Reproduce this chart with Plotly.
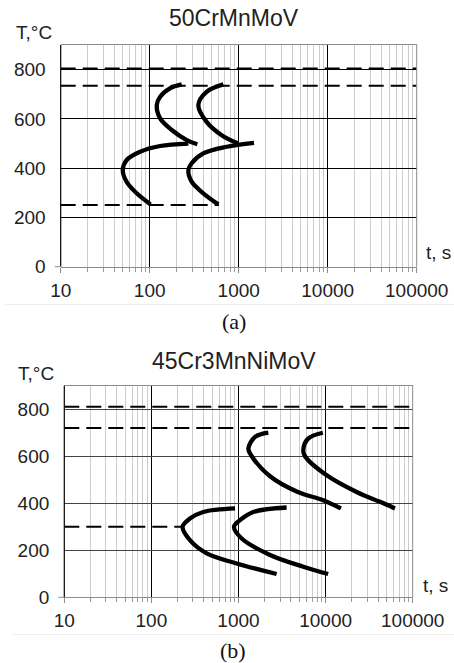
import plotly.graph_objects as go

W, H = 454, 663

# ---------------- data ----------------
x_tick_vals = [10, 100, 1000, 10000, 100000]
x_tick_text = ["10", "100", "1000", "10000", "100000"]
y_tick_vals = [0, 200, 400, 600, 800]
y_tick_text = ["0", "200", "400", "600", "800"]

titles = ["50CrMnMoV", "45Cr3MnNiMoV"]
captions = ["(a)", "(b)"]

# (a) 50CrMnMoV
a_start_upper_t = [229, 169, 131, 120, 131, 177, 261, 343]
a_start_upper_T = [740, 724, 690, 656, 602, 555, 514, 497]
a_start_lower_t = [272, 131, 78, 55, 49.8, 55, 71.5, 102]
a_start_lower_T = [500, 490, 467, 433, 392, 345, 298, 253]
a_finish_upper_t = [672, 436, 352, 436, 644, 990]
a_finish_upper_T = [740, 710, 656, 588, 534, 500]
a_finish_lower_t = [1486, 733, 400, 296, 272, 296, 400, 590]
a_finish_lower_T = [503, 487, 460, 420, 392, 345, 298, 253]
a_dash_T = [805, 735, 250]
a_dash_t_end = [100000, 100000, 600]

# (b) 45Cr3MnNiMoV
b_start_upper_t = [2200, 1550, 1300, 1420, 2300, 4800, 9400, 15000]
b_start_upper_T = [700, 682, 633, 600, 515, 448, 413, 378]
b_finish_upper_t = [9300, 6300, 5540, 5800, 10300, 22700, 42100, 62600]
b_finish_upper_T = [700, 675, 625, 600, 519, 448, 406, 378]
b_start_lower_t = [912, 394, 277, 228, 277, 431, 952, 2740]
b_start_lower_T = [378, 363, 335, 300, 243, 187, 144, 99]
b_finish_lower_t = [3570, 1480, 1040, 888, 1090, 2300, 5540, 10700]
b_finish_lower_T = [382, 363, 328, 300, 250, 180, 130, 99]
b_dash_T = [810, 720, 300]
b_dash_t_end = [100000, 100000, 228]

# ---------------- geometry (pixels) ----------------
plots = [
    dict(x0=60.7, x1=416.7, y0=45.0, y1=266.7),
    dict(x0=64.3, x1=412.7, y0=385.7, y1=597.3),
]

def px(x):
    return x / W

def py(y):
    return 1 - y / H

fig = go.Figure()

curve_sets = [
    [(a_start_upper_t, a_start_upper_T), (a_start_lower_t, a_start_lower_T),
     (a_finish_upper_t, a_finish_upper_T), (a_finish_lower_t, a_finish_lower_T)],
    [(b_start_upper_t, b_start_upper_T), (b_start_lower_t, b_start_lower_T),
     (b_finish_upper_t, b_finish_upper_T), (b_finish_lower_t, b_finish_lower_T)],
]
dash_sets = [(a_dash_T, a_dash_t_end), (b_dash_T, b_dash_t_end)]

for i in range(2):
    xa = "x" if i == 0 else "x2"
    ya = "y" if i == 0 else "y2"
    dT, dend = dash_sets[i]
    for T, te in zip(dT, dend):
        fig.add_trace(go.Scatter(x=[10, te], y=[T, T], xaxis=xa, yaxis=ya, mode="lines",
                                 line=dict(color="black", width=2, dash="15px,7px"),
                                 showlegend=False, hoverinfo="skip"))
    for t, T in curve_sets[i]:
        fig.add_trace(go.Scatter(x=t, y=T, xaxis=xa, yaxis=ya, mode="lines",
                                 line=dict(color="black", width=4.3, shape="spline", smoothing=1.0),
                                 showlegend=False, hoverinfo="skip"))

tickfont = dict(family="Liberation Sans, Arial, sans-serif", size=19, color="#222")

def xaxis(i):
    p = plots[i]
    return dict(
        type="log", range=[1, 5], domain=[px(p["x0"]), px(p["x1"])],
        anchor="y" if i == 0 else "y2", automargin=False,
        tickvals=x_tick_vals, ticktext=x_tick_text, tickfont=tickfont,
        showgrid=True, gridcolor="black", gridwidth=1,
        showline=True, linecolor="#8c8c8c", linewidth=1, mirror=True,
        ticks="outside", ticklen=5, tickcolor="#8c8c8c",
        ticklabelstandoff=1,
        minor=dict(dtick="D1", showgrid=True, gridcolor="#cccccc", gridwidth=1,
                   ticks="outside", ticklen=4, tickcolor="#9a9a9a"),
        zeroline=False, fixedrange=True,
    )

def yaxis(i):
    p = plots[i]
    return dict(
        range=[0, 900], domain=[py(p["y1"]), py(p["y0"])],
        anchor="x" if i == 0 else "x2", automargin=False,
        tickvals=y_tick_vals, ticktext=y_tick_text, tickfont=tickfont,
        showgrid=True, gridcolor="black" if i == 0 else "#444444", gridwidth=1,
        showline=False, ticks="", ticklabelstandoff=14,
        zeroline=False, fixedrange=True,
    )

shapes = []
annotations = []
for i in range(2):
    p = plots[i]
    xd = "x domain" if i == 0 else "x2 domain"
    yd = "y domain" if i == 0 else "y2 domain"
    shapes.append(dict(type="line", xref=xd, yref=yd, x0=0, x1=0, y0=0, y1=1,
                       line=dict(color="black", width=1.2)))
    shapes.append(dict(type="line", xref=xd, yref=yd, x0=1, x1=1, y0=0, y1=1,
                       line=dict(color="#8c8c8c", width=1)))
    shapes.append(dict(type="line", xref="paper", yref="paper",
                       x0=px(p["x0"] - 6), x1=px(p["x0"]), y0=py(p["y1"]), y1=py(p["y1"]),
                       line=dict(color="#8c8c8c", width=1)))

title_font = dict(family="Liberation Sans, Arial, sans-serif", size=23, color="#222")
label_font = dict(family="Liberation Sans, Arial, sans-serif", size=19, color="#222")
cap_font = dict(family="Liberation Serif, Times New Roman, serif", size=22, color="#111")

ann_pos = [
    dict(title=(234, 17.5), tl=(34, 32), ts=(438, 253), cap=(234, 321), sep=304.5, sepx=5),
    dict(title=(234, 361.5), tl=(36, 373), ts=(435, 585), cap=(233, 650), sep=634.5, sepx=13),
]
for i in range(2):
    a = ann_pos[i]
    annotations.append(dict(text=titles[i], x=px(a["title"][0]), y=py(a["title"][1]),
                            xref="paper", yref="paper", showarrow=False,
                            xanchor="center", yanchor="middle", font=title_font))
    annotations.append(dict(text="T,°C", x=px(a["tl"][0]), y=py(a["tl"][1]),
                            xref="paper", yref="paper", showarrow=False,
                            xanchor="center", yanchor="middle", font=label_font))
    annotations.append(dict(text="t, s", x=px(a["ts"][0]), y=py(a["ts"][1]),
                            xref="paper", yref="paper", showarrow=False,
                            xanchor="center", yanchor="middle", font=label_font))
    annotations.append(dict(text=captions[i], x=px(a["cap"][0]), y=py(a["cap"][1]),
                            xref="paper", yref="paper", showarrow=False,
                            xanchor="center", yanchor="middle", font=cap_font))
    shapes.append(dict(type="line", xref="paper", yref="paper",
                       x0=px(a["sepx"]), x1=1, y0=py(a["sep"]), y1=py(a["sep"]),
                       line=dict(color="#eeeeee", width=1)))

fig.update_layout(
    width=W, height=H, autosize=False,
    margin=dict(l=0, r=0, t=0, b=0, pad=0),
    paper_bgcolor="white", plot_bgcolor="white",
    xaxis=xaxis(0), yaxis=yaxis(0), xaxis2=xaxis(1), yaxis2=yaxis(1),
    shapes=shapes, annotations=annotations, showlegend=False,
)

fig.write_html("out.html", config=dict(displayModeBar=False),
               post_script="document.body.style.margin='0';document.body.style.overflow='hidden';")
